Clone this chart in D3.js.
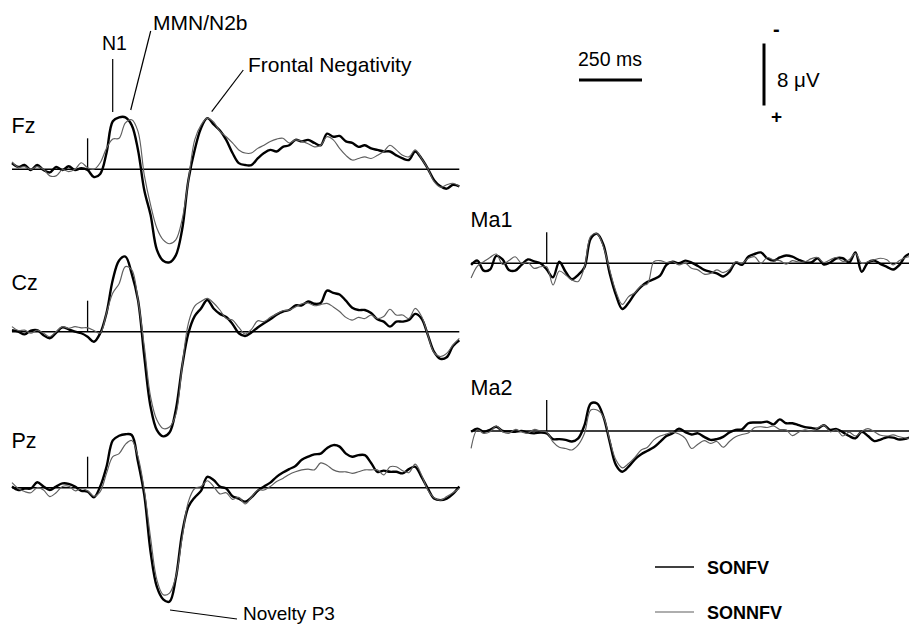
<!DOCTYPE html>
<html>
<head>
<meta charset="utf-8">
<script src="https://cdn.jsdelivr.net/npm/d3@7"></script>
<style>
  body { margin: 0; background: #fff; }
  svg { display: block; }
  text { font-family: "Liberation Sans", Arial, Helvetica, sans-serif; fill: #000; }
</style>
</head>
<body>
<svg id="chart" width="909" height="625"></svg>
<script>
// Sample times (ms relative to stimulus onset), one every 25 ms
const times = d3.range(-300, 1476, 25);
const channels = ["Fz", "Cz", "Pz", "Ma1", "Ma2"];
const conditions = ["SONFV", "SONNFV"];

// Grand-average amplitudes in microvolts (negative plotted upward)
const fzSONFV = [-0.8,-0.3,-0.55,0.1,-0.55,0.1,0.4,-0.3,0.1,-0.4,0.1,-0.15,0.1,1.0,0.6,-2.1,-6.2,-6.7,-6.7,-5.7,-2.5,2.7,5.9,10.4,11.8,12.0,11.1,7.8,1.4,-2.5,-5.3,-6.6,-5.8,-5.0,-3.8,-2.1,-0.8,-0.55,-0.55,-1.4,-2.1,-2.5,-2.3,-2.9,-3.1,-3.8,-3.6,-3.8,-3.4,-3.1,-4.6,-4.2,-4.3,-3.6,-3.4,-2.9,-3.1,-2.7,-2.5,-2.3,-2.3,-1.8,-1.4,-1.2,-2.3,-1.4,-0.1,1.4,2.2,2.5,2.0,2.2];
const fzSONNFV = [-0.95,-0.25,-0.35,0,-0.35,0,0.85,0.85,0.05,0.3,0,-0.85,-0.2,0,-0.85,-2.7,-3.9,-4.0,-6.0,-6.4,-4.9,0.75,4.6,7.6,9.1,9.6,9.1,6.5,1.4,-3.8,-5.7,-6.6,-6.1,-4.9,-4.2,-3.4,-2.5,-2.1,-2.1,-2.7,-3.1,-3.6,-3.9,-4.0,-3.4,-3.8,-3.6,-3.3,-2.9,-3.1,-4.2,-3.8,-2.7,-1.8,-1.2,-1.4,-1.6,-1.4,-1.8,-2.3,-3.1,-2.5,-1.8,-1.6,-2.5,-1.4,-0.1,1.6,2.3,2.0,1.8,2.2];

const czSONFV = [-0.2,0,0.35,-0.15,-0.2,0.45,0.85,0.15,-0.55,-0.3,0,0.2,0.65,1.3,0.2,-2.4,-6.7,-9.2,-9.7,-7.5,-4.1,3.2,9.7,12.7,13.5,13.0,10.1,4.5,0.2,-2.0,-3.0,-4.1,-3.0,-2.3,-1.9,-1.0,0.2,0.55,0.1,-0.55,-1.1,-1.6,-2.2,-2.6,-2.8,-3.4,-3.4,-3.9,-3.6,-3.7,-5.3,-5.0,-4.8,-4.0,-3.1,-2.8,-2.8,-2.4,-1.6,-1.3,-0.65,-1.3,-1.3,-1.5,-2.3,-1.7,0.4,2.6,3.5,3.3,1.85,1.1];
const czSONNFV = [-0.65,-0.15,-0.2,0.2,-0.2,0.2,0.65,0,-0.65,-0.45,-0.65,-0.5,-0.5,-0.15,0.2,-2.4,-5.0,-6.2,-8.4,-8.0,-4.1,1.9,8.4,11.4,12.5,12.3,10.7,4.5,-1.1,-3.3,-3.9,-4.3,-3.7,-2.8,-1.7,-1.5,-0.55,0.3,-0.3,-1.4,-1.3,-1.85,-2.3,-2.7,-2.8,-3.2,-3.6,-3.7,-3.35,-3.5,-3.65,-3.2,-2.6,-1.85,-1.5,-1.85,-1.7,-2.15,-1.7,-1.95,-2.9,-2.15,-2.15,-1.7,-3.0,-2.0,0.4,2.7,3.2,2.8,1.7,0.85];

const pzSONFV = [-0.15,0.3,0.1,0.1,-0.7,-0.15,0.3,-0.15,-0.55,-0.5,-0.15,0.4,0.5,1.25,-0.15,-2.7,-6.1,-6.7,-6.9,-6.8,-3.35,0.95,8.3,12.8,14.4,14.7,11.7,5.9,2.45,1.25,0.4,-1.4,-1.0,-0.15,0.1,1.1,1.4,1.8,1.25,0.4,-0.15,-0.65,-1.4,-1.95,-2.4,-2.8,-3.6,-4.0,-4.3,-4.4,-5.1,-5.5,-5.3,-4.4,-4.0,-4.2,-4.2,-3.2,-2.05,-2.2,-2.05,-2.05,-1.85,-2.4,-2.7,-1.4,0.1,1.4,1.6,1.4,0.8,-0.15];
const pzSONNFV = [-0.65,0.1,0.5,0.65,0,0.3,1.15,0.65,-0.15,-0.2,0.4,0.1,0.4,1.1,0.5,-1.85,-4.0,-4.4,-5.6,-6.1,-4.0,0.3,6.5,11.9,13.8,13.6,11.5,6.5,1.8,0.1,-0.15,-0.9,-0.15,0.8,0.65,1.5,1.25,2.1,1.25,0.3,0.3,-0.15,-0.8,-1.2,-1.7,-2.05,-2.3,-2.4,-2.3,-3.2,-2.9,-2.3,-2.05,-2.05,-1.85,-2.05,-2.3,-2.3,-2.3,-1.65,-2.7,-2.7,-2.2,-1.95,-3.05,-1.65,0.3,1.3,1.6,1.15,0.65,0.1];

const ma1SONFV = [0.2,-0.35,0.95,0.8,-0.95,-0.5,0.85,0.95,0.2,-0.5,-0.25,0,0.8,1.8,-0.2,1.1,2.05,1.5,0.5,-3.2,-3.8,-2.4,1.3,4.1,5.9,5.1,3.9,3.0,2.4,2.05,1.6,0.2,-0.2,0,-0.35,-0.1,0.35,0.85,1.1,1.3,1.7,1.1,-0.1,0.2,-0.85,-1.2,-1.4,-0.65,-0.35,-0.75,-1.0,-0.85,-0.45,-0.15,-0.1,-0.65,0.15,-0.1,-0.65,-0.65,-0.1,-1.4,1.1,-0.1,-0.35,0.1,0.45,0.8,0.2,-0.95,-1.3,-1.0];
const ma1SONNFV = [1.9,0.35,-0.2,-0.75,-1.2,0.15,-0.35,-0.85,0,-0.1,0.65,0.45,0.45,2.8,1.0,1.5,2.15,2.35,0.45,-3.5,-3.8,-2.15,0.85,3.65,5.3,4.3,3.8,2.9,2.65,-0.2,-0.35,-0.1,-0.2,0.2,0,0.65,0.85,1.4,1.3,0.85,1.2,0.8,-0.2,0,-0.65,-0.85,0,-0.75,-0.45,-0.35,0.1,-0.35,-0.15,-0.2,-0.6,-0.75,-0.1,-0.45,-0.75,-0.25,-0.45,-1.3,0,-0.2,-0.45,-0.65,-0.45,0.2,-0.35,-0.75,-0.85,-0.6];

const ma2SONFV = [0.1,-0.3,0.1,-0.15,-0.55,0,0.05,0.1,0,0.2,0.3,0.2,0.3,1.05,1.05,1.15,1.35,0.95,-0.75,-3.55,-3.55,-1.85,1.4,4.4,5.25,4.6,3.65,3.0,2.55,2.1,1.4,0.65,0.3,-0.3,0.15,0.45,0.3,0.75,1.15,1.05,0.75,0.2,-0.15,-0.2,-1.0,-1.1,-1.1,-1.2,-0.85,-1.5,-1.0,-1.0,-0.75,-0.5,-0.4,-0.3,-0.75,-0.15,-0.25,0.15,0.65,0.95,0.1,0.65,1.3,1.1,0.8,0.85,1.1,1.0,0.75,0.8];
const ma2SONNFV = [2.25,-0.15,0.3,0.1,-0.65,0.1,0.3,-0.2,0.1,0.3,-0.2,0,0.15,1.4,2.1,2.25,2.45,1.8,0.3,-2.7,-2.7,-1.85,1.15,3.75,4.75,4.2,3.4,2.45,2.1,1.15,0.65,0.4,0.15,0.4,0.95,2.25,1.7,1.25,1.6,1.35,2.1,1.35,0.75,0.45,0.25,-0.45,-0.55,-0.45,-0.65,-0.2,-0.15,0.6,0.15,-0.15,0.05,-0.4,-0.75,0.1,-0.15,0.65,0.15,0.65,0.05,-0.3,0.1,0.55,0.65,0.5,0.75,0.9,0.95,0.9];

const waveforms = {
  Fz:  [fzSONFV, fzSONNFV],
  Cz:  [czSONFV, czSONNFV],
  Pz:  [pzSONFV, pzSONNFV],
  Ma1: [ma1SONFV, ma1SONNFV],
  Ma2: [ma2SONFV, ma2SONNFV]
};

// Panel placement: column, zero-line height, label baseline
const panels = [
  { ch: "Fz",  col: 0, zero: 169.3, labelY: 133 },
  { ch: "Cz",  col: 0, zero: 331.7, labelY: 290 },
  { ch: "Pz",  col: 0, zero: 487.7, labelY: 448 },
  { ch: "Ma1", col: 1, zero: 263.3, labelY: 227 },
  { ch: "Ma2", col: 1, zero: 431.0, labelY: 395 }
];
const colStart = [12, 471.1];
const pxPerMs = 0.252;
const pxPerUv = 7.75;

const conditionStyle = [
  { color: "#000", width: 2.4 },
  { color: "#5f5f5f", width: 1.15 }
];

const svg = d3.select("#chart");

panels.forEach(p => {
  const x = d3.scaleLinear()
    .domain([times[0], times[times.length - 1]])
    .range([colStart[p.col], colStart[p.col] + (times[times.length - 1] - times[0]) * pxPerMs]);
  const y = d3.scaleLinear().domain([0, 1]).range([p.zero, p.zero + pxPerUv]);
  const g = svg.append("g").attr("class", "panel-" + p.ch);

  // zero line
  g.append("line")
    .attr("x1", x(times[0])).attr("x2", x(times[times.length - 1]))
    .attr("y1", y(0)).attr("y2", y(0))
    .attr("stroke", "#000").attr("stroke-width", 1.5);

  // stimulus onset marker (4 µV tall)
  g.append("line")
    .attr("x1", x(0)).attr("x2", x(0))
    .attr("y1", y(0)).attr("y2", y(-4))
    .attr("stroke", "#000").attr("stroke-width", 1.3);

  const line = d3.line()
    .x((d, i) => x(times[i]))
    .y(d => y(d))
    .curve(d3.curveCatmullRom.alpha(0.5));

  waveforms[p.ch].forEach((vals, k) => {
    g.append("path")
      .datum(vals)
      .attr("d", line)
      .attr("fill", "none")
      .attr("stroke", conditionStyle[k].color)
      .attr("stroke-width", conditionStyle[k].width)
      .attr("stroke-linejoin", "round");
  });

  g.append("text")
    .attr("x", colStart[p.col] - 0.5).attr("y", p.labelY)
    .attr("font-size", 21.5)
    .text(p.ch);
});

// Component annotations
const notes = svg.append("g").attr("class", "annotations");
const leader = (x1, y1, x2, y2) => notes.append("line")
  .attr("x1", x1).attr("y1", y1).attr("x2", x2).attr("y2", y2)
  .attr("stroke", "#000").attr("stroke-width", 1.2);

notes.append("text").attr("x", 102).attr("y", 50).attr("font-size", 19.5).text("N1");
leader(112.7, 59, 112.7, 112);
notes.append("text").attr("x", 153).attr("y", 30).attr("font-size", 21).text("MMN/N2b");
leader(150.7, 31, 130.7, 110);
notes.append("text").attr("x", 248).attr("y", 72).attr("font-size", 21).text("Frontal Negativity");
leader(243.3, 70, 211.7, 111.7);
notes.append("text").attr("x", 243).attr("y", 620).attr("font-size", 19).text("Novelty P3");
leader(170, 610, 237, 619);

// Calibration bars
const cal = svg.append("g").attr("class", "calibration");
cal.append("text").attr("x", 578).attr("y", 66).attr("font-size", 19.5).text("250 ms");
cal.append("line")
  .attr("x1", 579).attr("x2", 579 + 250 * pxPerMs)
  .attr("y1", 80).attr("y2", 80)
  .attr("stroke", "#000").attr("stroke-width", 3);
cal.append("line")
  .attr("x1", 764).attr("x2", 764)
  .attr("y1", 43.5).attr("y2", 43.5 + 8 * pxPerUv)
  .attr("stroke", "#000").attr("stroke-width", 3);
cal.append("text").attr("x", 773).attr("y", 36).attr("font-size", 20).attr("font-weight", "bold").text("-");
cal.append("text").attr("x", 771).attr("y", 123).attr("font-size", 19).attr("font-weight", "bold").text("+");
cal.append("text").attr("x", 777).attr("y", 87).attr("font-size", 20.5).text("8 \u03BCV");

// Legend
const legend = svg.append("g").attr("class", "legend");
conditions.forEach((c, k) => {
  const yy = 567 + k * 45;
  legend.append("line")
    .attr("x1", 655).attr("x2", 694).attr("y1", yy).attr("y2", yy)
    .attr("stroke", conditionStyle[k].color)
    .attr("stroke-width", k === 0 ? 1.6 : 1.1);
  legend.append("text")
    .attr("x", 707).attr("y", yy + 7)
    .attr("font-size", 18).attr("font-weight", "bold")
    .text(c);
});
</script>
</body>
</html>
